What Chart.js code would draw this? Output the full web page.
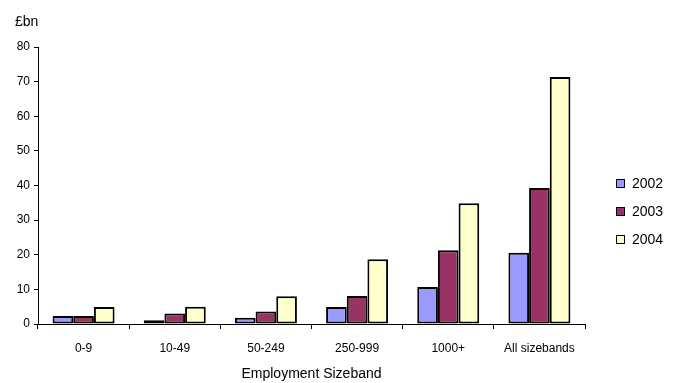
<!DOCTYPE html>
<html>
<head>
<meta charset="utf-8">
<script src="https://cdn.jsdelivr.net/npm/chart.js@4/dist/chart.umd.min.js"></script>
<style>
  body { margin: 0; background: #fff; }
  #wrap { position: relative; width: 680px; height: 383px; }
  #legend { position: absolute; left: 616px; top: 169px; font: 14px "Liberation Sans", Arial, sans-serif; color: #000; }
  .item { display: flex; align-items: center; height: 28px; }
  .swatch { width: 7px; height: 7px; border: 1.5px solid #000; margin-right: 7px; }
</style>
</head>
<body>
<div id="wrap">
  <canvas id="chart" width="680" height="383"></canvas>
  <div id="legend"></div>
</div>
<script>
  const sizebands = ['0-9', '10-49', '50-249', '250-999', '1000+', 'All sizebands'];
  const years = ['2002', '2003', '2004'];
  const values2002 = [2.3, 1.1, 1.8, 4.9, 10.7, 20.6];
  const values2003 = [2.3, 3.0, 3.6, 8.1, 21.3, 39.3];
  const values2004 = [4.9, 5.0, 8.0, 18.7, 34.9, 71.3];
  const yearColours = ['#9999FF', '#993366', '#FFFFCC'];

  const FONT = '"Liberation Sans", Arial, sans-serif';

  // unit label above the value axis
  const unitLabel = {
    id: 'unitLabel',
    afterDraw(chart) {
      const ctx = chart.ctx;
      ctx.save();
      ctx.font = '14px ' + FONT;
      ctx.fillStyle = '#000';
      ctx.textBaseline = 'alphabetic';
      ctx.fillText('£bn', 15, 26);
      ctx.restore();
    }
  };

  const series = [values2002, values2003, values2004];
  const datasets = years.map((year, i) => ({
    label: year,
    data: series[i],
    backgroundColor: yearColours[i],
    borderColor: '#000',
    borderWidth: 2,
    borderSkipped: false,
    barPercentage: 1,
    categoryPercentage: 0.68
  }));

  new Chart(document.getElementById('chart'), {
    type: 'bar',
    data: { labels: sizebands, datasets },
    options: {
      responsive: false,
      animation: false,
      devicePixelRatio: 1,
      layout: { padding: { top: 47, right: 95, left: 0, bottom: 0 } },
      plugins: {
        legend: { display: false },
        tooltip: { enabled: false }
      },
      scales: {
        x: {
          afterFit: (scale) => { scale.height = 59; },
          grid: {
            offset: true,
            drawOnChartArea: false,
            drawTicks: true,
            tickLength: 5,
            color: '#000'
          },
          border: { display: true, color: '#000', width: 1 },
          ticks: {
            color: '#000',
            padding: 12,
            maxRotation: 0,
            font: { family: FONT, size: 12 }
          },
          title: {
            display: true,
            text: 'Employment Sizeband',
            color: '#000',
            padding: { top: 4, bottom: 0 },
            font: { family: FONT, size: 14 }
          }
        },
        y: {
          min: 0,
          max: 80,
          afterFit: (scale) => { scale.width = 38; },
          grid: {
            drawOnChartArea: false,
            drawTicks: true,
            tickLength: 4,
            color: '#000'
          },
          border: { display: true, color: '#000', width: 1 },
          ticks: {
            stepSize: 10,
            color: '#000',
            padding: 4,
            font: { family: FONT, size: 12 }
          }
        }
      }
    },
    plugins: [unitLabel]
  });

  // legend to the right of the plot
  const legend = document.getElementById('legend');
  years.forEach((year, i) => {
    const item = document.createElement('div');
    item.classList.add('item');
    const swatch = document.createElement('span');
    swatch.classList.add('swatch');
    swatch.style.background = yearColours[i];
    item.appendChild(swatch);
    const text = document.createElement('span');
    text.textContent = year;
    item.appendChild(text);
    legend.appendChild(item);
  });
</script>
</body>
</html>
